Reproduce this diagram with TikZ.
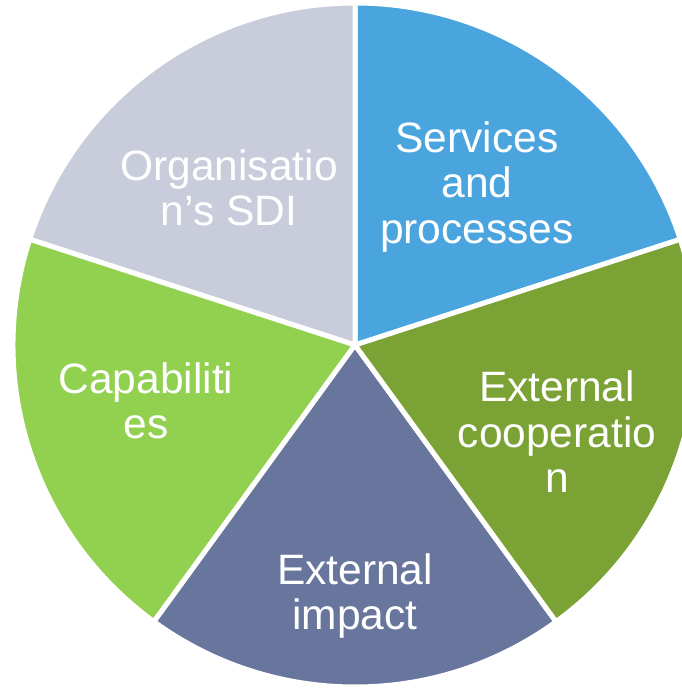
\documentclass[tikz,border=0pt]{standalone}
\usepackage{fontspec}
\setmainfont{Liberation Sans}
\definecolor{slicegray}{RGB}{201,204,219}
\definecolor{sliceblue}{RGB}{74,164,222}
\definecolor{slicedkgreen}{RGB}{122,162,52}
\definecolor{sliceslate}{RGB}{104,118,158}
\definecolor{sliceltgreen}{RGB}{146,208,80}
\tikzset{
  slice/.style={draw=white, line width=5pt, line join=miter},
  lbl/.style={text=white, align=center, inner sep=0pt, font=\fontsize{42.5pt}{45.5pt}\selectfont}
}
\begin{document}
\begin{tikzpicture}
\useasboundingbox (0pt,0pt) rectangle (681pt,690pt);
\coordinate (c) at (355pt,345pt);
\filldraw[slice, fill=sliceblue] (c) -- ++(18:342pt) arc (18:90:342pt) -- cycle;
\filldraw[slice, fill=slicegray] (c) -- ++(90:342pt) arc (90:162:342pt) -- cycle;
\filldraw[slice, fill=sliceltgreen] (c) -- ++(162:342pt) arc (162:234:342pt) -- cycle;
\filldraw[slice, fill=sliceslate] (c) -- ++(234:342pt) arc (234:306:342pt) -- cycle;
\filldraw[slice, fill=slicedkgreen] (c) -- ++(306:342pt) arc (306:378:342pt) -- cycle;
\node[lbl] (services) at (477pt,503pt) {Services\\and\\processes};
\node[lbl] (org) at (229pt,502pt) {Organisatio\\n’s SDI};
\node[lbl] (cap) at (146pt,289pt) {Capabiliti\\es};
\node[lbl] (coop) at (557pt,258pt) {External\\cooperatio\\n};
\node[lbl] (impact) at (355pt,94pt) {External\\impact};
\end{tikzpicture}
\end{document}
